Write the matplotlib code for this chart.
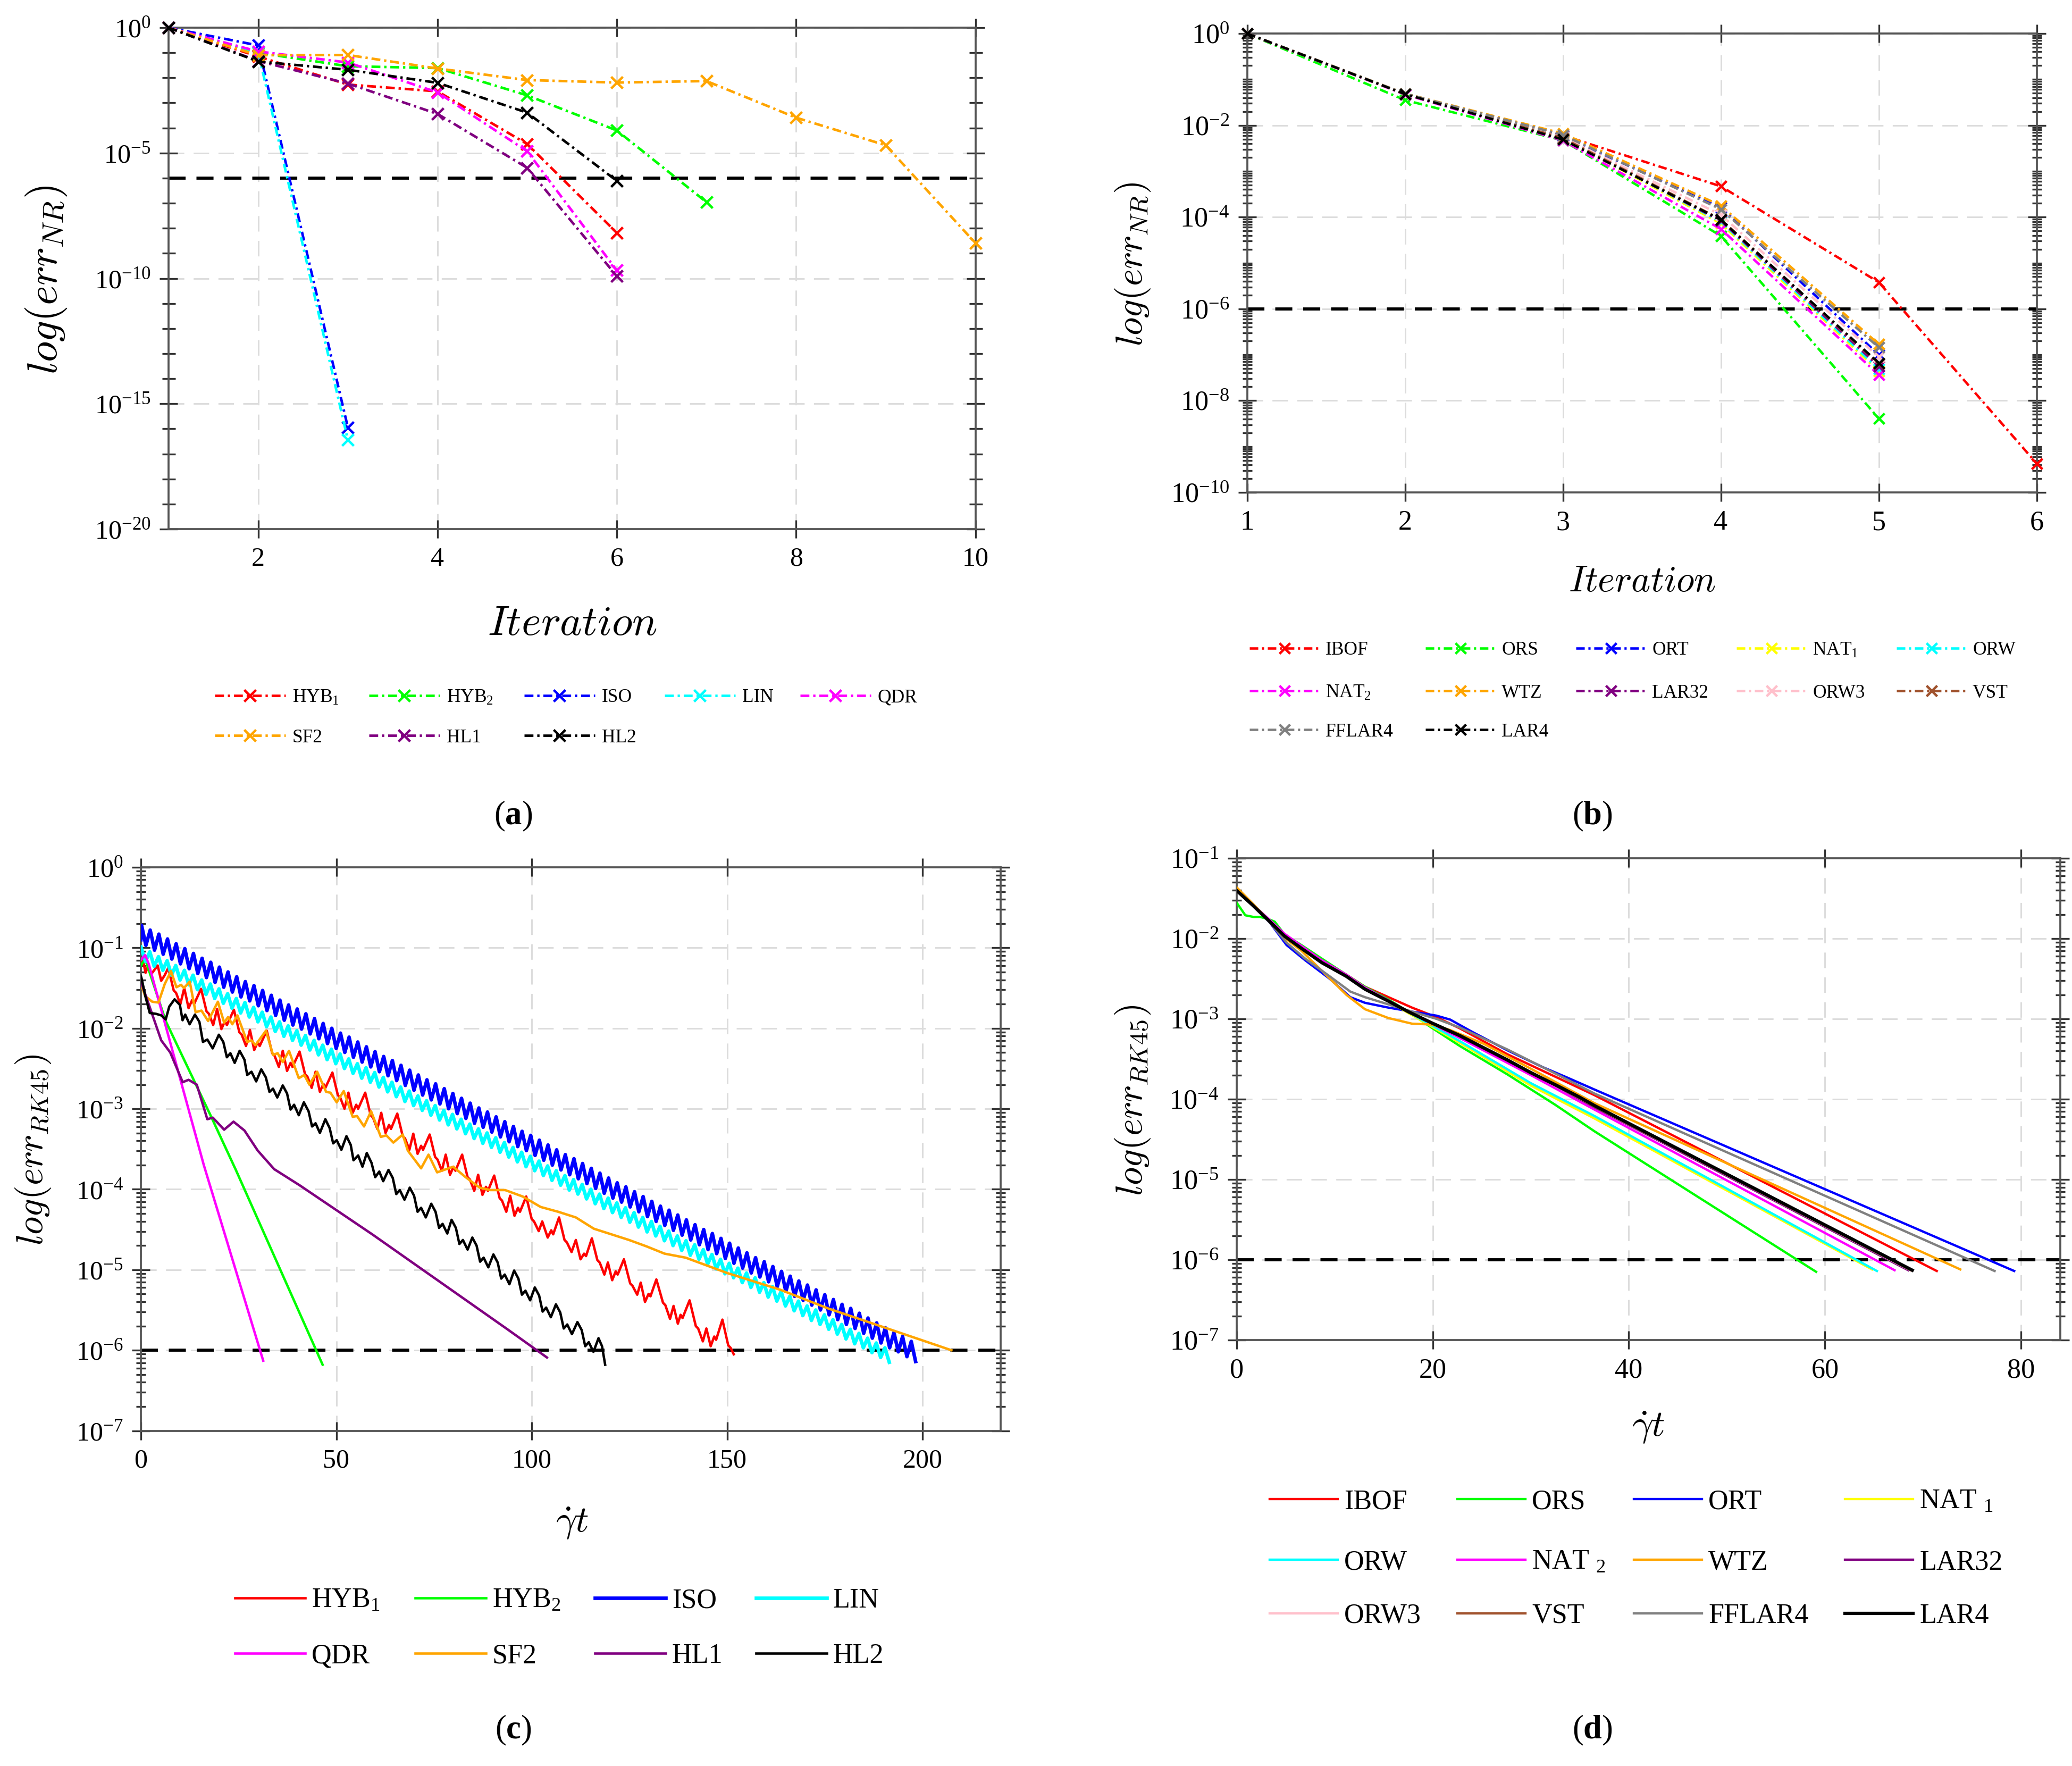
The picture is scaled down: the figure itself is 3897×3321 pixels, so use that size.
import numpy as np
import matplotlib
matplotlib.use('Agg')
import matplotlib.pyplot as plt
from matplotlib.ticker import (FixedLocator, LogLocator, NullFormatter, NullLocator,
                               LogFormatterSciNotation, ScalarFormatter)

# ------------------------------------------------------------------ data
THRESHOLD = 1e-6

# (a) Newton-Raphson error per iteration, stored as log10 values
A_iterations = [1, 2, 3, 4, 5, 6, 7, 8, 9, 10]
A_labels = [r'HYB$_{\mathregular{1}}$', r'HYB$_{\mathregular{2}}$', 'ISO', 'LIN', 'QDR', 'SF2', 'HL1', 'HL2']
A_hyb1 = [0, -1.15, -2.27, -2.54, -4.64, -8.18]
A_hyb2 = [0, -1.00, -1.54, -1.61, -2.70, -4.10, -6.96]
A_iso = [0, -0.71, -15.94]
A_lin = [0, -0.98, -16.44]
A_qdr = [0, -0.95, -1.39, -2.58, -4.93, -9.68]
A_sf2 = [0, -1.10, -1.09, -1.63, -2.09, -2.19, -2.13, -3.59, -4.69, -8.59]
A_hl1 = [0, -1.33, -2.23, -3.44, -5.59, -9.91]
A_hl2 = [0, -1.35, -1.68, -2.20, -3.39, -6.11]

# (b) Newton-Raphson error per iteration (log10)
B_iterations = [1, 2, 3, 4, 5, 6]
B_labels = ['IBOF', 'ORS', 'ORT', r'NAT$_{\mathregular{1}}$', 'ORW', r'NAT$_{\mathregular{2}}$', 'WTZ',
            'LAR32', 'ORW3', 'VST', 'FFLAR4', 'LAR4']
B_ibof = [0, -1.32, -2.22, -3.33, -5.42, -9.37]
B_ors = [0, -1.45, -2.33, -4.41, -8.39]
B_ort = [0, -1.32, -2.24, -3.79, -7.00]
B_nat1 = [0, -1.32, -2.28, -4.14, -7.36]
B_orw = [0, -1.32, -2.27, -4.10, -7.31]
B_nat2 = [0, -1.33, -2.33, -4.26, -7.44]
B_wtz = [0, -1.31, -2.18, -3.75, -6.77]
B_lar32 = [0, -1.32, -2.29, -4.08, -7.25]
B_orw3 = [0, -1.32, -2.26, -3.95, -7.05]
B_vst = [0, -1.32, -2.28, -4.05, -7.20]
B_fflar4 = [0, -1.31, -2.21, -3.83, -6.84]
B_lar4 = [0, -1.32, -2.31, -4.06, -7.18]

# (c) RK45 error vs strain (x = gamma_dot*t, y = log10 error)
C_hyb1_x = [0.0, 0.5, 1.2, 1.9, 2.6, 4.3, 5.2, 6.1, 7.0,
            8.4, 9.0, 10.1, 11.1, 12.2, 13.1, 13.6, 15.4,
            16.8, 17.4, 18.5, 19.5, 20.6, 21.5, 22.0, 23.8,
            25.2, 25.8, 26.9, 27.9, 29.0, 29.9, 30.4, 32.2,
            33.6, 34.2, 35.3, 36.3, 37.4, 38.3, 38.8, 40.6,
            42.0, 42.6, 43.7, 44.7, 45.8, 46.7, 47.2, 49.0,
            50.4, 51.0, 52.1, 53.1, 54.2, 55.1, 55.6, 57.4,
            58.8, 59.4, 60.5, 61.5, 62.6, 63.5, 64.0, 65.6,
            67.0, 67.6, 68.7, 69.7, 70.8, 71.7, 72.2, 73.9,
            75.3, 75.9, 77.0, 78.0, 79.1, 80.0, 80.5, 82.2,
            83.6, 84.2, 85.3, 86.3, 87.4, 88.3, 88.8, 90.4,
            91.8, 92.4, 93.5, 94.5, 95.6, 96.5, 97.0, 98.6,
            100.0, 100.6, 101.8, 102.7, 104.1, 105.0, 105.5, 107.0,
            108.4, 109.0, 110.2, 111.3, 112.5, 113.4, 113.9, 115.4,
            116.8, 117.4, 118.6, 119.5, 120.6, 121.5, 122.0, 123.6,
            125.2, 125.8, 127.0, 127.9, 129.0, 129.9, 130.4, 131.9,
            133.6, 134.2, 135.4, 136.3, 137.4, 138.1, 138.6, 140.4,
            142.0, 142.6, 143.8, 144.7, 145.8, 146.7, 147.2, 148.8,
            150.3, 150.9, 151.7]
C_hyb1_y = [-1.20, -1.15, -1.31, -1.22, -1.33, -1.22, -1.41, -1.34, -1.25,
            -1.53, -1.56, -1.70, -1.50, -1.75, -1.65, -1.70, -1.51,
            -1.79, -1.82, -1.96, -1.76, -2.01, -1.91, -1.96, -1.77,
            -2.05, -2.08, -2.22, -2.02, -2.27, -2.17, -2.22, -2.03,
            -2.31, -2.34, -2.48, -2.28, -2.53, -2.43, -2.48, -2.29,
            -2.57, -2.60, -2.74, -2.54, -2.79, -2.69, -2.74, -2.55,
            -2.83, -2.86, -3.00, -2.80, -3.05, -2.95, -3.00, -2.80,
            -3.08, -3.11, -3.25, -3.05, -3.30, -3.20, -3.25, -3.06,
            -3.34, -3.37, -3.51, -3.31, -3.56, -3.46, -3.51, -3.32,
            -3.60, -3.63, -3.77, -3.57, -3.82, -3.72, -3.77, -3.57,
            -3.85, -3.88, -4.02, -3.82, -4.07, -3.97, -4.02, -3.83,
            -4.11, -4.14, -4.28, -4.08, -4.33, -4.23, -4.28, -4.09,
            -4.37, -4.40, -4.52, -4.40, -4.60, -4.51, -4.56, -4.35,
            -4.63, -4.66, -4.78, -4.63, -4.87, -4.80, -4.83, -4.61,
            -4.88, -4.91, -5.06, -4.91, -5.13, -5.02, -5.06, -4.87,
            -5.17, -5.20, -5.31, -5.16, -5.40, -5.30, -5.33, -5.12,
            -5.41, -5.44, -5.61, -5.45, -5.67, -5.56, -5.60, -5.38,
            -5.70, -5.73, -5.89, -5.73, -5.95, -5.83, -5.87, -5.62,
            -5.94, -5.97, -6.05]

C_hyb2_x = [0.0, 1.1, 6.35, 17.9, 24.3, 46.5]
C_hyb2_y = [-1.22, -1.14, -1.91, -3.09, -3.76, -6.18]

C_iso_x = [0.0, 0.17, 1.28, 2.38, 3.49, 4.60, 5.71, 6.81, 7.92, 9.02, 10.13, 11.24, 12.35, 13.45, 14.56,
           15.66, 16.77, 17.87, 18.98, 20.09, 21.20, 22.30, 23.41, 24.51, 25.62, 26.73, 27.84, 28.94,
           30.05, 31.15, 32.26, 33.37, 34.48, 35.58, 36.69, 37.79, 38.90, 40.00, 41.11, 42.22, 43.33,
           44.43, 45.54, 46.64, 47.75, 48.86, 49.97, 51.07, 52.18, 53.28, 54.39, 55.50, 56.61, 57.71,
           58.82, 59.92, 61.03, 62.13, 63.24, 64.35, 65.46, 66.56, 67.67, 68.77, 69.88, 70.99, 72.10,
           73.20, 74.31, 75.41, 76.52, 77.63, 78.74, 79.84, 80.95, 82.05, 83.16, 84.26, 85.37, 86.48,
           87.59, 88.69, 89.80, 90.90, 92.01, 93.12, 94.23, 95.33, 96.44, 97.54, 98.65, 99.76, 100.87,
           101.97, 103.08, 104.18, 105.29, 106.39, 107.50, 108.61, 109.72, 110.82, 111.93, 113.03,
           114.14, 115.25, 116.36, 117.46, 118.57, 119.67, 120.78, 121.89, 123.00, 124.10, 125.21,
           126.31, 127.42, 128.52, 129.63, 130.74, 131.85, 132.95, 134.06, 135.16, 136.27, 137.38,
           138.49, 139.59, 140.70, 141.80, 142.91, 144.02, 145.13, 146.23, 147.34, 148.44, 149.55,
           150.65, 151.76, 152.87, 153.98, 155.08, 156.19, 157.29, 158.40, 159.51, 160.62, 161.72,
           162.83, 163.93, 165.04, 166.15, 167.26, 168.36, 169.47, 170.57, 171.68, 172.78, 173.89,
           175.00, 176.11, 177.21, 178.32, 179.42, 180.53, 181.64, 182.75, 183.85, 184.96, 186.06,
           187.17, 188.28, 189.39, 190.49, 191.60, 192.70, 193.81, 194.91, 196.02, 197.13, 198.24]
C_iso_y = [-0.90, -0.72, -0.97, -0.78, -1.03, -0.83, -1.08, -0.89, -1.14, -0.95, -1.20, -1.01, -1.26,
           -1.07, -1.32, -1.13, -1.37, -1.18, -1.43, -1.24, -1.49, -1.30, -1.55, -1.36, -1.61, -1.42,
           -1.66, -1.47, -1.72, -1.53, -1.78, -1.59, -1.84, -1.65, -1.90, -1.71, -1.96, -1.76, -2.01,
           -1.82, -2.07, -1.88, -2.13, -1.94, -2.19, -2.00, -2.25, -2.06, -2.30, -2.11, -2.36, -2.17,
           -2.42, -2.23, -2.48, -2.29, -2.54, -2.35, -2.59, -2.40, -2.65, -2.46, -2.71, -2.52, -2.77,
           -2.58, -2.83, -2.64, -2.89, -2.69, -2.94, -2.75, -3.00, -2.81, -3.06, -2.87, -3.12, -2.93,
           -3.18, -2.99, -3.23, -3.04, -3.29, -3.10, -3.35, -3.16, -3.41, -3.22, -3.47, -3.28, -3.52,
           -3.33, -3.58, -3.39, -3.64, -3.45, -3.70, -3.51, -3.76, -3.57, -3.82, -3.62, -3.87, -3.68,
           -3.93, -3.74, -3.99, -3.80, -4.05, -3.86, -4.11, -3.92, -4.16, -3.97, -4.22, -4.03, -4.28,
           -4.09, -4.34, -4.15, -4.40, -4.21, -4.45, -4.26, -4.51, -4.32, -4.57, -4.38, -4.63, -4.44,
           -4.69, -4.50, -4.75, -4.55, -4.80, -4.61, -4.86, -4.67, -4.92, -4.73, -4.98, -4.79, -5.04,
           -4.85, -5.09, -4.90, -5.15, -4.96, -5.21, -5.02, -5.27, -5.08, -5.33, -5.14, -5.38, -5.19,
           -5.44, -5.25, -5.50, -5.31, -5.56, -5.37, -5.62, -5.43, -5.68, -5.48, -5.73, -5.54, -5.79,
           -5.60, -5.85, -5.66, -5.91, -5.72, -5.97, -5.78, -6.02, -5.83, -6.08, -5.89, -6.14]

C_lin_x = [0.0, 1.18, 2.28, 3.39, 4.50, 5.61, 6.71, 7.82, 8.92, 10.03, 11.14, 12.25, 13.35, 14.46,
           15.56, 16.67, 17.77, 18.88, 19.99, 21.10, 22.20, 23.31, 24.41, 25.52, 26.63, 27.74, 28.84,
           29.95, 31.05, 32.16, 33.27, 34.38, 35.48, 36.59, 37.69, 38.80, 39.90, 41.01, 42.12, 43.23,
           44.33, 45.44, 46.54, 47.65, 48.76, 49.87, 50.97, 52.08, 53.18, 54.29, 55.40, 56.51, 57.61,
           58.72, 59.82, 60.93, 62.03, 63.14, 64.25, 65.36, 66.46, 67.57, 68.67, 69.78, 70.89, 72.00,
           73.10, 74.21, 75.31, 76.42, 77.53, 78.64, 79.74, 80.85, 81.95, 83.06, 84.16, 85.27, 86.38,
           87.49, 88.59, 89.70, 90.80, 91.91, 93.02, 94.13, 95.23, 96.34, 97.44, 98.55, 99.66, 100.77,
           101.87, 102.98, 104.08, 105.19, 106.29, 107.40, 108.51, 109.62, 110.72, 111.83, 112.93,
           114.04, 115.15, 116.26, 117.36, 118.47, 119.57, 120.68, 121.79, 122.90, 124.00, 125.11,
           126.21, 127.32, 128.42, 129.53, 130.64, 131.75, 132.85, 133.96, 135.06, 136.17, 137.28,
           138.39, 139.49, 140.60, 141.70, 142.81, 143.92, 145.03, 146.13, 147.24, 148.34, 149.45,
           150.55, 151.66, 152.77, 153.88, 154.98, 156.09, 157.19, 158.30, 159.41, 160.52, 161.62,
           162.73, 163.83, 164.94, 166.05, 167.16, 168.26, 169.37, 170.47, 171.58, 172.68, 173.79,
           174.90, 176.01, 177.11, 178.22, 179.32, 180.43, 181.54, 182.65, 183.75, 184.86, 185.96,
           187.07, 188.18, 189.29, 190.39, 191.50]
C_lin_y = [-0.99, -1.17, -1.05, -1.23, -1.11, -1.28, -1.16, -1.34, -1.22, -1.40, -1.28, -1.46, -1.34,
           -1.52, -1.40, -1.58, -1.45, -1.63, -1.51, -1.69, -1.57, -1.75, -1.63, -1.81, -1.68, -1.86,
           -1.74, -1.92, -1.80, -1.98, -1.86, -2.04, -1.92, -2.10, -1.97, -2.15, -2.03, -2.21, -2.09,
           -2.27, -2.15, -2.33, -2.21, -2.39, -2.26, -2.44, -2.32, -2.50, -2.38, -2.56, -2.44, -2.62,
           -2.49, -2.67, -2.55, -2.73, -2.61, -2.79, -2.67, -2.85, -2.73, -2.91, -2.78, -2.96, -2.84,
           -3.02, -2.90, -3.08, -2.96, -3.14, -3.02, -3.20, -3.07, -3.25, -3.13, -3.31, -3.19, -3.37,
           -3.25, -3.43, -3.30, -3.48, -3.36, -3.54, -3.42, -3.60, -3.48, -3.66, -3.54, -3.72, -3.59,
           -3.77, -3.65, -3.83, -3.71, -3.89, -3.77, -3.95, -3.83, -4.01, -3.88, -4.06, -3.94, -4.12,
           -4.00, -4.18, -4.06, -4.24, -4.11, -4.29, -4.17, -4.35, -4.23, -4.41, -4.29, -4.47, -4.35,
           -4.53, -4.40, -4.58, -4.46, -4.64, -4.52, -4.70, -4.58, -4.76, -4.64, -4.82, -4.69, -4.87,
           -4.75, -4.93, -4.81, -4.99, -4.87, -5.05, -4.92, -5.10, -4.98, -5.16, -5.04, -5.22, -5.10,
           -5.28, -5.16, -5.34, -5.21, -5.39, -5.27, -5.45, -5.33, -5.51, -5.39, -5.57, -5.45, -5.63,
           -5.50, -5.68, -5.56, -5.74, -5.62, -5.80, -5.68, -5.86, -5.74, -5.92, -5.79, -5.97, -5.85,
           -6.03, -5.91, -6.09, -5.97, -6.15]

C_qdr_x = [0.0, 1.1, 2.0, 16.1, 31.3]
C_qdr_y = [-1.15, -1.09, -1.20, -3.70, -6.13]

C_sf2_x = [0.0, 1.1, 2.9, 4.5, 6.1, 7.7, 9.1, 10.3, 11.0, 12.5, 14.0, 15.5, 17.2, 19.7, 21.3, 22.3,
           23.4, 24.7, 27.2, 28.3, 29.3, 32.0, 33.8, 35.0, 36.3, 37.9, 40.4, 41.8, 43.1, 45.1, 47.4,
           48.5, 50.1, 51.9, 54.2, 55.3, 57.1, 58.9, 61.4, 62.8, 64.6, 67.0, 68.3, 71.7, 73.6, 75.8,
           79.9, 83.1, 86.7, 89.4, 93.2, 97.7, 102.3, 106.8, 111.3, 115.9, 120.4, 124.9, 129.4, 134.0,
           139.4, 150.0, 163.7, 175.8, 188.0, 197.1, 207.4]
C_sf2_y = [-1.45, -1.60, -1.67, -1.68, -1.45, -1.29, -1.49, -1.46, -1.50, -1.42, -1.80, -1.78,
           -1.91, -1.67, -1.93, -1.86, -1.95, -1.84, -2.17, -2.15, -2.21, -2.03, -2.33, -2.31, -2.42,
           -2.28, -2.62, -2.58, -2.70, -2.54, -2.79, -2.80, -2.92, -2.78, -3.10, -3.09, -3.22, -3.03,
           -3.35, -3.33, -3.42, -3.32, -3.52, -3.74, -3.57, -3.79, -3.72, -3.85, -3.98, -4.01, -4.01,
           -4.09, -4.22, -4.28, -4.35, -4.49, -4.56, -4.63, -4.71, -4.80, -4.85, -5.04, -5.25, -5.48,
           -5.68, -5.83, -6.00]

C_hl1_x = [0.0, 5.2, 7.5, 10.7, 12.2, 14.3, 17.0, 18.4, 21.3, 23.7, 26.5, 29.9, 34.1, 40.6, 59.2,
           93.8, 103.9]
C_hl1_y = [-1.42, -2.15, -2.30, -2.67, -2.64, -2.70, -3.13, -3.11, -3.26, -3.16, -3.27, -3.52, -3.75,
           -3.95, -4.56, -5.74, -6.09]

C_hl2_x = [0.0, 0.23, 1.13, 2.27, 3.85, 5.22, 6.35, 7.26, 8.62,
           9.98, 10.66, 11.34, 12.47, 13.83, 14.97, 15.87, 17.0, 18.37, 19.95,
           21.09, 22.0, 22.9, 24.0, 25.26, 26.5, 27.2, 28.3, 29.5, 30.8,
           31.97, 32.9, 33.8, 34.9, 36.3, 37.4, 38.3, 39.2, 40.4, 41.7,
           42.9, 43.8, 44.7, 45.8, 47.2, 48.3, 49.2, 50.1, 51.3, 52.6,
           53.7, 54.4, 55.6, 56.7, 57.8, 59.0, 59.96, 61.0, 62.0, 63.35,
           64.45, 65.35, 66.25, 67.45, 68.8, 69.9, 70.8, 71.7, 72.9, 74.3,
           75.4, 76.3, 77.2, 78.4, 79.5, 80.6, 81.5, 82.4, 83.6, 84.8,
           85.9, 86.8, 87.7, 88.9, 90.2, 91.3, 92.2, 93.1, 94.3, 95.5,
           96.6, 97.5, 98.4, 99.6, 100.8, 101.9, 102.8, 103.7, 104.9, 106.2,
           107.3, 108.2, 109.1, 110.3, 111.7, 112.8, 113.7, 114.6, 115.8, 117.1,
           118.0, 118.8]
C_hl2_y = [-1.35, -1.39, -1.60, -1.81, -1.82, -1.84, -1.89, -1.73, -1.64,
           -1.71, -1.90, -1.83, -1.95, -1.83, -1.92, -2.17, -2.14, -2.25, -2.08,
           -2.17, -2.36, -2.31, -2.43, -2.28, -2.39, -2.58, -2.54, -2.66, -2.51,
           -2.61, -2.79, -2.75, -2.86, -2.71, -2.81, -3.01, -2.95, -3.08, -2.92,
           -3.03, -3.22, -3.18, -3.30, -3.13, -3.24, -3.43, -3.39, -3.51, -3.34,
           -3.45, -3.64, -3.58, -3.72, -3.55, -3.67, -3.85, -3.78, -3.90, -3.76,
           -3.86, -4.06, -4.01, -4.13, -3.98, -4.08, -4.28, -4.23, -4.35, -4.18,
           -4.28, -4.48, -4.43, -4.55, -4.38, -4.48, -4.68, -4.63, -4.75, -4.60,
           -4.70, -4.90, -4.85, -4.97, -4.81, -4.91, -5.11, -5.06, -5.18, -5.01,
           -5.11, -5.31, -5.26, -5.38, -5.22, -5.32, -5.52, -5.47, -5.59, -5.43,
           -5.53, -5.73, -5.68, -5.80, -5.65, -5.75, -5.95, -5.90, -6.02, -5.85,
           -5.95, -6.18]

C_labels = [r'HYB$_{\mathregular{1}}$', r'HYB$_{\mathregular{2}}$', 'ISO', 'LIN', 'QDR', 'SF2', 'HL1', 'HL2']

# (d) RK45 error vs strain (log10)
D_labels = ['IBOF', 'ORS', 'ORT', r'NAT $_{\mathregular{1}}$', 'ORW', r'NAT $_{\mathregular{2}}$', 'WTZ',
            'LAR32', 'ORW3', 'VST', 'FFLAR4', 'LAR4']
D_ibof_x = [0, 1.7, 3.4, 4.9, 6.6, 8.7, 11.2, 13.1, 15.5, 17.9, 20.4, 22.8, 27.6, 32.5, 36.5, 71.4]
D_ibof_y = [-1.40, -1.59, -1.79, -1.96, -2.10, -2.27, -2.45, -2.60, -2.73, -2.86, -2.98, -3.12, -3.44,
            -3.72, -3.95, -6.14]
D_ors_x = [0, 0.9, 1.7, 2.4, 3.3, 3.9, 4.9, 6.6, 8.7, 11.2, 13.1, 15.5, 17.5, 19.9, 22.8, 27.6, 32.5,
           36.5, 59.1]
D_ors_y = [-1.55, -1.71, -1.73, -1.73, -1.76, -1.79, -1.95, -2.08, -2.25, -2.45, -2.60, -2.76, -2.91,
           -3.11, -3.34, -3.69, -4.07, -4.40, -6.15]
D_ort_x = [0, 1.7, 3.4, 5.1, 7.0, 9.5, 11.6, 13.1, 14.3, 15.5, 17.9, 20.4, 21.8, 24.0, 27.6, 31.2, 33.7,
           36.5, 79.3]
D_ort_y = [-1.40, -1.59, -1.80, -2.08, -2.27, -2.50, -2.73, -2.80, -2.83, -2.86, -2.91, -2.96, -3.01,
           -3.16, -3.39, -3.60, -3.73, -3.88, -6.14]
D_nat1_x = [0, 1.7, 3.4, 4.9, 6.6, 8.7, 11.2, 13.1, 15.5, 17.0, 22.8, 30.0, 36.5, 64.8]
D_nat1_y = [-1.40, -1.59, -1.79, -1.97, -2.12, -2.30, -2.47, -2.63, -2.78, -2.89, -3.30, -3.83, -4.24, -6.12]
D_orw_x = [0, 1.7, 3.4, 4.9, 6.6, 8.7, 11.2, 13.1, 15.5, 17.0, 22.8, 30.0, 36.5, 65.3]
D_orw_y = [-1.40, -1.59, -1.79, -1.97, -2.12, -2.30, -2.47, -2.63, -2.78, -2.88, -3.28, -3.80, -4.21, -6.14]
D_nat2_x = [0, 1.7, 3.4, 4.9, 6.6, 8.7, 11.2, 13.1, 15.5, 17.5, 22.8, 30.0, 36.5, 67.1]
D_nat2_y = [-1.40, -1.58, -1.77, -1.94, -2.09, -2.27, -2.45, -2.61, -2.77, -2.91, -3.24, -3.70, -4.13, -6.13]
D_wtz_x = [0, 1.7, 3.4, 4.9, 6.6, 8.7, 11.2, 13.1, 15.5, 17.9, 19.9, 21.8, 25.2, 30.0, 36.5, 73.8]
D_wtz_y = [-1.36, -1.57, -1.79, -1.99, -2.15, -2.40, -2.70, -2.88, -2.99, -3.06, -3.07, -3.14, -3.31,
           -3.62, -4.05, -6.12]
D_lar32_x = [0, 1.7, 3.4, 4.9, 6.6, 8.7, 11.2, 13.1, 15.5, 17.5, 19.9, 22.8, 27.6, 32.5, 36.5, 68.5]
D_lar32_y = [-1.40, -1.59, -1.79, -1.97, -2.12, -2.30, -2.47, -2.63, -2.78, -2.91, -3.05, -3.22, -3.52,
             -3.83, -4.10, -6.13]
D_orw3_x = [0, 1.7, 3.4, 4.9, 6.6, 8.7, 11.2, 13.1, 15.5, 17.5, 19.9, 22.8, 27.6, 32.5, 36.5, 68.7]
D_orw3_y = [-1.40, -1.59, -1.79, -1.97, -2.12, -2.30, -2.47, -2.63, -2.78, -2.91, -3.05, -3.21, -3.51,
            -3.82, -4.09, -6.13]
D_vst_x = [0, 1.7, 3.4, 4.9, 6.6, 8.7, 11.2, 13.1, 15.5, 17.5, 19.9, 22.8, 27.6, 32.5, 36.5, 68.8]
D_vst_y = [-1.40, -1.59, -1.79, -1.97, -2.12, -2.30, -2.47, -2.63, -2.78, -2.91, -3.05, -3.21, -3.51,
           -3.82, -4.09, -6.13]
D_fflar4_x = [0, 1.7, 3.4, 5.1, 7.0, 9.5, 11.6, 13.1, 15.5, 17.9, 20.4, 22.8, 27.6, 32.5, 36.5, 77.3]
D_fflar4_y = [-1.40, -1.59, -1.80, -2.05, -2.25, -2.47, -2.66, -2.73, -2.82, -2.91, -3.00, -3.11, -3.38,
              -3.68, -3.93, -6.14]
D_lar4_x = [0, 1.7, 3.4, 4.9, 6.6, 8.7, 11.2, 13.1, 15.5, 17.5, 19.9, 22.8, 25.2, 27.6, 30.0, 32.5,
            34.9, 36.5, 68.9]
D_lar4_y = [-1.40, -1.59, -1.79, -1.97, -2.12, -2.30, -2.47, -2.63, -2.78, -2.91, -3.05, -3.21, -3.36,
            -3.51, -3.67, -3.82, -3.97, -4.08, -6.13]

# ------------------------------------------------------------------ style
plt.rcParams['font.family'] = ['Liberation Serif', 'DejaVu Serif']
plt.rcParams['mathtext.fontset'] = 'custom'
plt.rcParams['mathtext.rm'] = 'Liberation Serif'
plt.rcParams['mathtext.it'] = 'Liberation Serif:italic'
plt.rcParams['mathtext.bf'] = 'Liberation Serif:bold'

COL = {'red': '#ff0000', 'green': '#00ff00', 'blue': '#0000ff', 'cyan': '#00ffff',
       'magenta': '#ff00ff', 'orange': '#ffa500', 'purple': '#800080', 'black': '#000000',
       'yellow': '#ffff00', 'pink': '#ffc0cb', 'brown': '#a0522d', 'gray': '#808080'}

W, H = 3897, 3321
fig = plt.figure(figsize=(W / 300, H / 300), dpi=300)
fig.patch.set_facecolor('white')


def px_axes(l, t, r, b):
    return fig.add_axes([l / W, 1 - b / H, (r - l) / W, (b - t) / H])


def style(ax, xlim, ylim, xticks, ymajor, yminor, fs, minor_len=4.5):
    ax.set_yscale('log')
    ax.set_xlim(*xlim)
    ax.set_ylim(*ylim)
    ax.xaxis.set_major_locator(FixedLocator(xticks))
    ax.xaxis.set_minor_locator(NullLocator())
    ax.xaxis.set_major_formatter(ScalarFormatter())
    ax.yaxis.set_major_locator(FixedLocator(ymajor))
    ax.yaxis.set_major_formatter(LogFormatterSciNotation())
    ax.yaxis.set_minor_locator(yminor)
    ax.yaxis.set_minor_formatter(NullFormatter())
    ax.tick_params(which='both', direction='inout', top=True, right=True, color='#333333',
                   width=0.8, labelsize=fs)
    ax.tick_params(which='major', length=8, pad=4)
    ax.tick_params(which='minor', length=minor_len)
    for s in ax.spines.values():
        s.set_color('#555555')
        s.set_linewidth(0.9)
    ax.grid(True, which='major', color='#dcdcdc', lw=0.7, ls=(0, (10, 6)))
    ax.set_axisbelow(True)
    ax.axhline(THRESHOLD, color='k', lw=1.4, ls=(0, (5.5, 3.5)), zorder=1.5)


def entry(line, label, xpx, ypx, fs, hl, tp):
    fig.legend(handles=[line], labels=[label], loc='center left',
               bbox_to_anchor=(xpx / W, 1 - ypx / H), frameon=False, fontsize=fs,
               handlelength=hl, handletextpad=tp, borderpad=0, borderaxespad=0, numpoints=1)


def flabel(x, y, s, size, rot=0):
    fig.text(x / W, 1 - y / H, s, ha='center', va='center', fontsize=size, rotation=rot,
             math_fontfamily='cm')


DASHDOT = (0, (3.5, 1.5, 0.9, 1.5))

# ------------------------------------------------------------------ (a)
axa = px_axes(317, 52, 1834.5, 995)
a_series = [A_hyb1, A_hyb2, A_iso, A_lin, A_qdr, A_sf2, A_hl1, A_hl2]
a_cols = ['red', 'green', 'blue', 'cyan', 'magenta', 'orange', 'purple', 'black']
a_lines = []
for vals, c in zip(a_series, a_cols):
    xs = A_iterations[:len(vals)]
    ln, = axa.plot(xs, 10.0 ** np.array(vals), color=COL[c], lw=1.15, ls=DASHDOT, marker='x',
                   ms=5.5, mew=1.1, clip_on=False, zorder=3)
    a_lines.append(ln)
style(axa, (1, 10), (1e-20, 1e0), [2, 4, 6, 8, 10],
      [1e-20, 1e-15, 1e-10, 1e-5, 1e0], FixedLocator([10.0 ** k for k in range(-20, 1)]), 12,
      minor_len=6)
a_cols_px = [404, 694, 986, 1250, 1505]
a_rows_px = [1312, 1387]
for i, (ln, lab) in enumerate(zip(a_lines, A_labels)):
    entry(ln, lab, a_cols_px[i % 5], a_rows_px[i // 5], 8.5, 3.75, 0.37)
flabel(1077, 1175, r'$Iteration$', 19)
flabel(87, 526, r'$log(err_{NR})$', 19, 90)

# ------------------------------------------------------------------ (b)
axb = px_axes(2345.5, 63, 3830.6, 926)
b_series = [B_ibof, B_ors, B_ort, B_nat1, B_orw, B_nat2, B_wtz, B_lar32, B_orw3, B_vst,
            B_fflar4, B_lar4]
b_cols = ['red', 'green', 'blue', 'yellow', 'cyan', 'magenta', 'orange', 'purple', 'pink',
          'brown', 'gray', 'black']
b_lines = []
for vals, c in zip(b_series, b_cols):
    xs = B_iterations[:len(vals)]
    ln, = axb.plot(xs, 10.0 ** np.array(vals), color=COL[c], lw=1.1, ls=DASHDOT, marker='x',
                   ms=5, mew=1.1, clip_on=False, zorder=3)
    b_lines.append(ln)
style(axb, (1, 6), (1e-10, 1e0), [1, 2, 3, 4, 5, 6],
      [10.0 ** k for k in range(-10, 1, 2)], LogLocator(base=10, subs=np.arange(1, 10), numticks=100),
      12.5)
b_cols_px = [2350, 2681, 2964, 3266, 3567]
b_rows_px = [1223, 1303, 1376]
for i, (ln, lab) in enumerate(zip(b_lines, B_labels)):
    entry(ln, lab, b_cols_px[i % 5], b_rows_px[i // 5], 8.5, 3.73, 0.31)
flabel(3089, 1095, r'$Iteration$', 16.5)
flabel(2130, 497, r'$log(err_{NR})$', 16.5, 90)

# ------------------------------------------------------------------ (c)
axc = px_axes(265, 1631, 1882, 2690.5)
c_series = [(C_hyb1_x, C_hyb1_y, 'red', 1.1), (C_hyb2_x, C_hyb2_y, 'green', 1.1),
            (C_iso_x, C_iso_y, 'blue', 1.6), (C_lin_x, C_lin_y, 'cyan', 1.6),
            (C_qdr_x, C_qdr_y, 'magenta', 1.1), (C_sf2_x, C_sf2_y, 'orange', 1.1),
            (C_hl1_x, C_hl1_y, 'purple', 1.1), (C_hl2_x, C_hl2_y, 'black', 1.1)]
c_lines = []
for xs, ys, c, lw in c_series:
    ln, = axc.plot(xs, 10.0 ** np.array(ys), color=COL[c], lw=lw, zorder=3,
                   solid_joinstyle='round')
    c_lines.append(ln)
style(axc, (0, 220), (1e-7, 1e0), [0, 50, 100, 150, 200],
      [10.0 ** k for k in range(-7, 1)], LogLocator(base=10, subs=np.arange(2, 10), numticks=100), 12)
c_cols_px = [441.5, 781, 1119, 1422]
c_rows_px = [3010, 3114]
for i, (ln, lab) in enumerate(zip(c_lines, C_labels)):
    entry(ln, lab, c_cols_px[i % 4], c_rows_px[i // 4], 12.5, 2.55, 0.23)
flabel(1076, 2865, r'$\dot{\gamma}t$', 17)
flabel(62, 2162, r'$log(err_{RK45})$', 16.5, 90)

# ------------------------------------------------------------------ (d)
axd = px_axes(2325.6, 1614, 3875, 2520)
d_series = [(D_ibof_x, D_ibof_y, 'red'), (D_ors_x, D_ors_y, 'green'), (D_ort_x, D_ort_y, 'blue'),
            (D_nat1_x, D_nat1_y, 'yellow'), (D_orw_x, D_orw_y, 'cyan'),
            (D_nat2_x, D_nat2_y, 'magenta'), (D_wtz_x, D_wtz_y, 'orange'),
            (D_lar32_x, D_lar32_y, 'purple'), (D_orw3_x, D_orw3_y, 'pink'),
            (D_vst_x, D_vst_y, 'brown'), (D_fflar4_x, D_fflar4_y, 'gray'),
            (D_lar4_x, D_lar4_y, 'black')]
d_lines = []
for xs, ys, c in d_series:
    lw = 1.5 if c == 'black' else 1.05
    ln, = axd.plot(xs, 10.0 ** np.array(ys), color=COL[c], lw=lw, zorder=3)
    d_lines.append(ln)
style(axd, (0, 84), (1e-7, 1e-1), [0, 20, 40, 60, 80],
      [10.0 ** k for k in range(-7, 0)], LogLocator(base=10, subs=np.arange(2, 10), numticks=100), 12.5)
d_cols_px = [2388, 2741, 3073, 3470]
d_rows_px = [2824, 2938, 3039]
for i, (ln, lab) in enumerate(zip(d_lines, D_labels)):
    entry(ln, lab, d_cols_px[i % 4], d_rows_px[i // 4], 12.5, 2.46, 0.23)
flabel(3100, 2685, r'$\dot{\gamma}t$', 17)
flabel(2130, 2069, r'$log(err_{RK45})$', 16.5, 90)

# ------------------------------------------------------------------ panel tags
for tag, (x, y) in zip('abcd', [(965, 1535), (2995, 1535), (965, 3254), (2995, 3254)]):
    fig.text(x / W, 1 - y / H, '(' + r'$\mathbf{' + tag + '}$' + ')', ha='center', va='center',
             fontsize=15)

fig.savefig('out.png', dpi=300, facecolor='white')
